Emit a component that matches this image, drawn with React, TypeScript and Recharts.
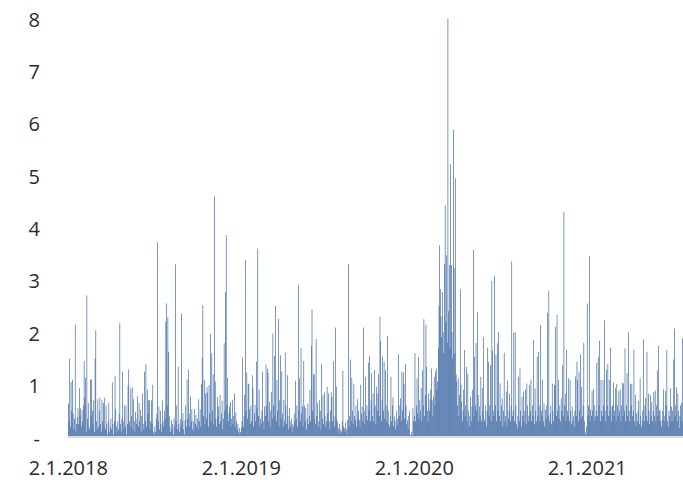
import React from 'react';
import { BarChart, Bar, XAxis, YAxis } from 'recharts';

// daily values, one per trading day
const values2018: number[] = [
  0.64, 0.3, 1.5, 0.2, 1.05, 0.5, 1.1, 0.45, 0.15, 0.35,
  2.15, 0.1, 0.25, 0.38, 0.55, 0.25, 0.93, 0.4, 0.55, 0.2,
  0.52, 0.3, 0.6, 1.45, 0.75, 1.13, 0.1, 2.7, 0.35, 0.65,
  0.2, 0.15, 1.1, 0.4, 1.1, 0.5, 0.25, 0.7, 0.1, 1.5,
  2.04, 0.3, 0.15, 0.72, 0.2, 0.5, 0.75, 0.25, 0.1, 0.7,
  0.3, 0.65, 0.2, 0.75, 0.15, 0.6, 0.25, 0.05, 0.3, 0.65,
  0.1, 0.2, 0.35, 0.15, 1.04, 0.25, 0.05, 0.3, 1.16, 0.53,
  0.2, 0.1, 0.3, 0.15, 0.45, 2.17, 0.25, 0.1, 0.35, 1.25,
  0.3, 0.15, 0.6, 0.2, 0.6, 0.05, 0.25, 0.99, 1.29, 0.3,
  0.2, 0.93, 0.4, 0.95, 0.15, 0.72, 0.3, 0.1, 0.48, 0.25,
  0.35, 0.78, 0.2, 0.65, 0.3, 0.52, 0.1, 0.4, 0.83, 0.25,
  0.15, 1.25, 0.3, 1.39, 0.2, 0.9, 0.45, 0.7, 0.7, 0.15,
  0.3, 0.7, 0.25, 1.0, 0.1, 0.05, 0.2, 0.1, 0.35, 0.45,
  3.72, 0.3, 0.58, 0.15, 0.5, 0.25, 0.1, 0.7, 0.3, 0.2,
  0.5, 0.35, 2.2, 2.55, 0.6, 2.28, 1.63, 0.4, 0.2, 0.1,
  0.33, 0.15, 0.25, 0.05, 0.36, 0.2, 3.3, 0.3, 0.6, 0.15,
  1.34, 0.25, 0.1, 0.34, 0.2, 2.36, 0.3, 0.46, 0.15, 0.05,
  0.32, 0.6, 0.2, 1.1, 0.35, 1.29, 0.45, 0.2, 0.77, 0.3,
  0.53, 0.15, 0.3, 0.1, 0.53, 0.25, 0.42, 0.2, 0.35, 0.15,
  0.72, 0.3, 0.53, 0.2, 1.01, 1.52, 2.52, 0.4, 1.09, 0.25,
  0.83, 0.35, 0.95, 0.85, 0.2, 0.99, 0.45, 1.96, 0.3, 1.6,
  0.5, 1.2, 0.25, 4.59, 1.06, 0.35, 0.2, 0.76, 0.4, 0.58,
  0.25, 0.8, 0.3, 0.45, 0.69, 0.15, 0.35, 1.79, 0.5, 2.77,
  3.85, 0.6, 1.13, 0.3, 0.45, 0.58, 0.67, 0.2, 0.35, 0.7,
  0.25, 0.4, 0.83, 0.2, 0.47, 0.3, 0.15, 0.25, 0.1, 0.17,
  0.05, 0.1,
];

const values2019: number[] = [
  0.17, 0.3, 1.52, 0.2, 0.4, 0.8, 3.38, 0.5, 1.23, 0.35,
  1.02, 1.01, 0.53, 0.25, 0.6, 0.3, 1.18, 0.93, 0.2, 0.45,
  0.61, 0.3, 1.44, 0.55, 3.6, 0.4, 0.9, 0.2, 0.35, 0.26,
  0.5, 1.25, 0.3, 0.15, 0.58, 0.4, 1.38, 0.6, 1.31, 1.22,
  0.3, 0.67, 0.2, 0.5, 0.86, 0.35, 1.97, 0.6, 1.54, 0.4,
  2.5, 0.3, 1.09, 0.5, 2.26, 0.2, 0.7, 1.56, 0.35, 1.25,
  0.45, 0.2, 0.71, 0.3, 1.62, 0.6, 0.25, 1.18, 0.4, 0.15,
  0.55, 0.3, 0.2, 0.34, 0.1, 0.25, 0.2, 0.45, 0.3, 1.07,
  0.35, 0.6, 0.2, 2.9, 0.5, 1.12, 0.3, 1.7, 0.45, 0.58,
  0.2, 1.45, 0.6, 0.3, 0.55, 0.15, 0.35, 0.64, 0.25, 0.4,
  0.9, 0.3, 1.74, 2.44, 0.5, 1.2, 0.35, 1.2, 0.25, 1.87,
  0.4, 0.65, 0.2, 0.3, 0.7, 0.5, 0.15, 1.39, 0.35, 0.8,
  0.25, 0.85, 0.4, 0.2, 0.3, 0.96, 0.45, 0.83, 0.3, 0.15,
  0.5, 0.85, 0.77, 0.3, 1.44, 0.4, 0.2, 2.09, 0.35, 0.96,
  0.3, 0.1, 0.17, 0.25, 0.07, 0.15, 0.1, 0.3, 1.26, 0.2,
  0.17, 0.1, 0.27, 0.15, 0.05, 0.32, 3.3, 0.2, 0.4, 1.48,
  0.3, 1.13, 0.5, 0.25, 1.01, 0.4, 0.32, 0.6, 0.2, 0.72,
  0.35, 0.5, 0.32, 0.2, 1.0, 0.45, 0.58, 0.3, 2.09, 0.5,
  0.25, 1.15, 0.4, 0.6, 0.32, 1.42, 0.5, 1.55, 0.3, 0.7,
  1.22, 0.4, 0.83, 0.3, 1.28, 0.6, 0.25, 0.96, 0.5, 0.83,
  1.2, 0.4, 2.3, 1.83, 0.3, 0.7, 1.53, 0.5, 1.44, 0.35,
  1.28, 0.6, 0.3, 1.93, 0.5, 0.25, 0.2, 0.4, 1.15, 0.3,
  0.6, 0.76, 0.2, 0.39, 0.3, 0.15, 0.5, 0.23, 0.35, 1.58,
  0.4, 0.6, 0.74, 0.3, 1.25, 0.5, 1.23, 1.01, 0.35, 1.39,
  0.6, 0.25, 0.32, 0.15, 0.4, 0.5, 0.05, 0.02, 0.1, 0.03,
  0.55, 0.3,
];

const values2020: number[] = [
  0.4, 1.6, 0.3, 0.6, 1.12, 0.45, 1.53, 0.35, 0.7, 0.5,
  0.93, 0.3, 1.27, 0.6, 2.25, 0.4, 0.8, 2.15, 1.34, 0.5,
  0.3, 0.83, 0.5, 0.72, 0.9, 1.31, 0.7, 0.4, 0.77, 1.15,
  0.6, 1.25, 1.31, 0.9, 1.06, 1.7, 2.5, 3.66, 2.82, 2.3,
  1.9, 2.77, 2.0, 1.6, 3.31, 4.43, 2.2, 3.47, 1.8, 7.99,
  2.4, 3.28, 1.7, 5.21, 3.28, 2.0, 1.5, 5.86, 3.23, 1.6,
  4.94, 1.2, 1.06, 0.6, 1.12, 0.4, 0.8, 2.82, 1.0, 0.68,
  0.3, 0.5, 0.9, 1.66, 0.4, 0.6, 1.34, 0.3, 1.21, 0.5,
  0.2, 0.4, 0.77, 0.3, 0.58, 0.9, 3.57, 0.4, 1.53, 0.6,
  1.79, 0.5, 2.38, 0.8, 0.3, 0.58, 0.4, 1.15, 0.3, 0.93,
  0.5, 1.91, 0.3, 0.35, 0.6, 0.2, 0.5, 1.71, 1.43, 0.4,
  0.6, 1.37, 0.3, 2.98, 1.65, 0.5, 0.4, 3.07, 0.6, 1.56,
  0.3, 1.79, 0.5, 2.01, 0.4, 1.02, 0.3, 0.6, 0.74, 0.2,
  0.5, 1.61, 0.3, 0.4, 0.87, 0.2, 1.08, 0.35, 0.5, 0.83,
  0.3, 0.6, 3.35, 0.4, 0.5, 1.99, 0.3, 2.0, 0.6, 0.25,
  0.16, 0.4, 1.15, 0.3, 1.31, 0.5, 0.2, 0.77, 0.4, 0.87,
  0.3, 0.5, 0.9, 0.25, 1.02, 0.6, 0.3, 0.4, 0.99, 0.5,
  1.1, 0.3, 0.6, 0.4, 1.85, 0.25, 0.93, 0.5, 0.3, 1.53,
  0.4, 1.63, 0.6, 0.3, 2.14, 0.5, 0.4, 1.1, 0.3, 0.64,
  0.2, 0.52, 0.35, 0.6, 2.37, 0.4, 2.79, 0.3, 0.45, 0.6,
  0.25, 1.02, 0.5, 0.3, 0.99, 0.99, 2.1, 0.4, 2.33, 0.5,
  1.09, 0.35, 0.6, 0.3, 0.74, 0.5, 1.37, 0.4, 4.29, 0.6,
  0.83, 0.3, 1.66, 0.5, 0.4, 1.12, 0.3, 1.09, 0.5, 0.25,
  0.58, 0.3, 0.39, 0.2, 0.5, 1.16, 0.4, 1.44, 1.09, 0.3,
  1.25, 0.5, 1.58, 0.35, 0.96, 0.4, 0.6, 1.8, 0.3, 0.09,
  0.05, 0.2,
];

const values2021: number[] = [
  2.55, 0.4, 0.6, 3.45, 0.3, 0.52, 0.4, 0.88, 0.5, 0.91,
  0.3, 0.6, 0.39, 0.5, 1.42, 0.4, 1.53, 0.6, 1.84, 0.3,
  1.09, 0.5, 0.4, 1.09, 0.6, 2.23, 0.5, 0.3, 1.29, 0.6,
  1.39, 0.4, 1.09, 0.5, 1.71, 0.3, 0.58, 0.6, 1.04, 0.4,
  0.5, 0.93, 0.3, 1.01, 0.6, 0.4, 0.88, 0.5, 0.91, 0.3,
  0.6, 1.04, 0.4, 1.02, 0.5, 1.69, 0.3, 0.6, 1.22, 0.4,
  2.0, 0.5, 0.3, 1.02, 0.6, 1.01, 0.4, 0.5, 1.67, 0.3,
  0.8, 0.2, 0.45, 0.3, 0.5, 0.69, 0.25, 1.12, 0.4, 0.2,
  0.32, 0.5, 1.86, 0.3, 0.6, 0.74, 0.4, 1.63, 0.3, 0.83,
  0.5, 0.25, 0.8, 0.4, 0.67, 0.3, 0.5, 0.86, 0.4, 0.89,
  0.3, 0.6, 1.27, 0.4, 1.74, 0.5, 0.52, 0.3, 0.2, 0.32,
  0.5, 0.91, 0.3, 0.4, 0.88, 0.6, 1.66, 0.3, 0.2, 0.5,
  0.4, 0.93, 0.3, 0.58, 0.5, 0.3, 1.48, 2.07, 0.4, 0.6,
  0.95, 0.3, 0.83, 0.5, 0.17, 0.4, 0.6, 0.65, 0.3, 1.88,
];

const tickIndex: number[] = [0, 252, 504, 756];
const tickLabels: string[] = ['2.1.2018', '2.1.2019', '2.1.2020', '2.1.2021'];
const yTicks: number[] = [0, 1, 2, 3, 4, 5, 6, 7, 8];

const allValues = [...values2018, ...values2019, ...values2020, ...values2021];
const data = allValues.map((v, i) => ({ i, v }));

const FONT = "'Open Sans', sans-serif";
const TEXT = '#2b2b2b';

const YTick = (props: any) => {
  const { x, y, payload } = props;
  const label = payload.value === 0 ? '-' : String(payload.value);
  return (
    <text
      x={x}
      y={y + 1}
      textAnchor="end"
      dominantBaseline="central"
      fill={TEXT}
      fontSize={20}
      fontFamily={FONT}
    >
      {label}
    </text>
  );
};

export default function App() {
  return (
    <div style={{ position: 'absolute', left: 0, top: 0, background: '#fff' }}>
      <BarChart
        width={683}
        height={482}
        data={data}
        margin={{ top: 18, right: 0, bottom: 0, left: 0 }}
        barCategoryGap="4%"
      >
        <XAxis
          dataKey="i"
          type="category"
          ticks={tickIndex}
          interval={0}
          tickFormatter={(v: any) => tickLabels[tickIndex.indexOf(Number(v))] ?? ''}
          tickLine={false}
          tickSize={0}
          tickMargin={24}
          height={45}
          axisLine={{ stroke: '#d9d9d9', strokeWidth: 2 }}
          tick={{ fill: TEXT, fontSize: 20, fontFamily: FONT }}
        />
        <YAxis
          domain={[0, 8]}
          ticks={yTicks}
          interval={0}
          width={68}
          axisLine={false}
          tickLine={false}
          tickSize={0}
          tickMargin={28}
          tick={<YTick />}
        />
        <Bar dataKey="v" fill="#2f5c9c" isAnimationActive={false} />
      </BarChart>
    </div>
  );
}
